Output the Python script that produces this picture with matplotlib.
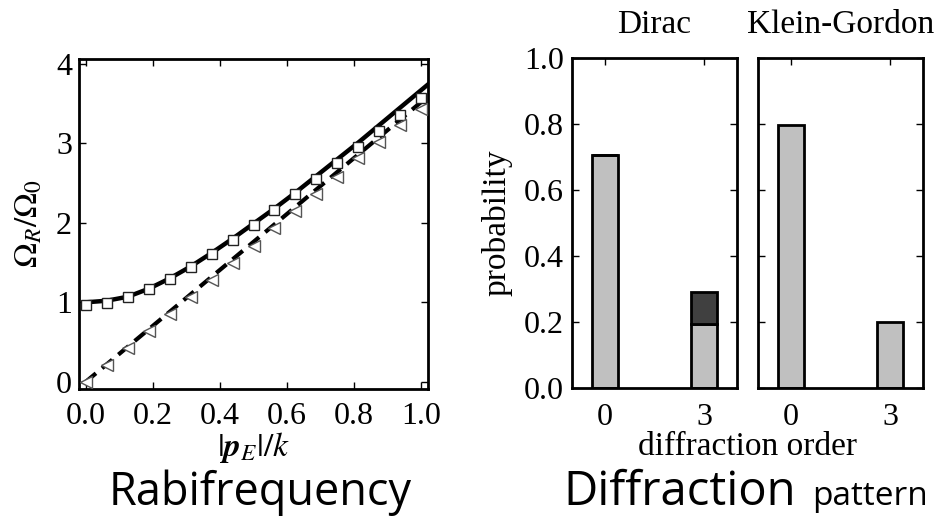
import matplotlib
matplotlib.use("Agg")
import matplotlib.pyplot as plt

plt.rcParams['font.family'] = ['Liberation Serif', 'DejaVu Serif']
plt.rcParams['mathtext.fontset'] = 'stix'

# ---- Left panel data (Rabi frequency) ----
x_pts = [0.0, 0.0625, 0.125, 0.1875, 0.25, 0.3125, 0.375, 0.4375, 0.5,
         0.5625, 0.625, 0.6875, 0.75, 0.8125, 0.875, 0.9375, 1.0]
squares = [0.97, 0.99, 1.065, 1.17, 1.29, 1.44, 1.61, 1.79, 1.97,
           2.16, 2.36, 2.55, 2.75, 2.95, 3.16, 3.36, 3.57]
triangles = [0.0, 0.21, 0.42, 0.64, 0.855, 1.065, 1.28, 1.49, 1.71,
             1.94, 2.15, 2.36, 2.58, 2.81, 3.02, 3.23, 3.43]
solid_x = [0.0, 0.0625, 0.125, 0.1875, 0.25, 0.3125, 0.375, 0.4375, 0.5,
           0.5625, 0.625, 0.6875, 0.75, 0.8125, 0.875, 0.9375, 1.0, 1.02]
solid_y = [1.00, 1.02, 1.07, 1.17, 1.30, 1.45, 1.62, 1.80, 1.99,
           2.18, 2.38, 2.59, 2.80, 3.01, 3.23, 3.45, 3.67, 3.74]
dash_x = [0.0, 0.25, 0.5, 0.75, 1.0, 1.02]
dash_y = [0.0, 0.88, 1.76, 2.64, 3.52, 3.59]
left_xticks = [0.0, 0.2, 0.4, 0.6, 0.8, 1.0]
left_yticks = [0, 1, 2, 3, 4]

# ---- Right panels data (diffraction pattern) ----
orders = [0, 3]
order_labels = ['0', '3']
dirac_light = [0.707, 0.195]
dirac_dark = [0.0, 0.095]
kg_light = [0.797, 0.2]
prob_ticks = [0.0, 0.2, 0.4, 0.6, 0.8, 1.0]

W, H = 939, 519
fig = plt.figure(figsize=(W / 100, H / 100), dpi=100)

def px_axes(l, r, t, b):
    return fig.add_axes([l / W, 1 - b / H, (r - l) / W, (b - t) / H])

TFS = 23   # tick labels
LFS = 24   # axis labels and titles
light = '#c0c0c0'
dark = '#404040'

def style(ax):
    for s in ax.spines.values():
        s.set_linewidth(2.0)
    ax.tick_params(direction='in', top=True, right=True, length=5, width=1,
                   labelsize=TFS)

# Left panel
ax = px_axes(79, 428, 59, 389)
style(ax)
ax.plot(solid_x, solid_y, '-', color='black', lw=3.2, zorder=2)
ax.plot(dash_x, dash_y, '--', color='black', lw=3.0, dashes=(3.2, 1.9), zorder=2)
ax.plot(x_pts, squares, 's', ms=7.4, mfc='white', mec='#222222', mew=1.0, zorder=3)
ax.plot(x_pts, triangles, '<', ms=8.5, mfc='white', mec='#555555', mew=1.0, zorder=3)
ax.set_xlim(-0.02, 1.02)
ax.set_ylim(-0.09, 4.06)
ax.set_xticks(left_xticks)
ax.set_xticklabels(['%.1f' % v for v in left_xticks])
ax.set_yticks(left_yticks)
ax.tick_params(axis='x', pad=9)
ax.tick_params(axis='y', pad=5)
ax.set_ylabel(r'$\Omega_R/\Omega_0$', fontsize=LFS)
ax.yaxis.set_label_coords(-0.10, 0.5)
ax.set_xlabel(r'$|\mathbfit{p}_E|/k$', fontsize=LFS)
ax.xaxis.set_label_coords(0.5, -0.125)

# Dirac panel
ax1 = px_axes(572, 737, 58, 388)
style(ax1)
ax1.bar(orders, dirac_light, width=0.8, color=light, edgecolor='black', lw=2, zorder=2)
ax1.bar(orders, dirac_dark, width=0.8, bottom=dirac_light, color=dark,
        edgecolor='black', lw=2, zorder=2)
ax1.set_xlim(-1, 4)
ax1.set_ylim(0, 1)
ax1.set_xticks(orders)
ax1.set_xticklabels(order_labels)
ax1.set_yticks(prob_ticks)
ax1.set_yticklabels(['%.1f' % v for v in prob_ticks])
ax1.tick_params(axis='x', pad=11)
ax1.tick_params(axis='y', pad=6)
ax1.set_ylabel('probability', fontsize=LFS)
ax1.yaxis.set_label_coords(-0.36, 0.5)
ax1.set_title('Dirac', fontsize=LFS, pad=18)

# Klein-Gordon panel
ax2 = px_axes(758, 923, 58, 388)
style(ax2)
ax2.bar(orders, kg_light, width=0.8, color=light, edgecolor='black', lw=2, zorder=2)
ax2.set_xlim(-1, 4)
ax2.set_ylim(0, 1)
ax2.set_xticks(orders)
ax2.set_xticklabels(order_labels)
ax2.set_yticks(prob_ticks)
ax2.set_yticklabels([])
ax2.tick_params(axis='x', pad=11)
ax2.set_title('Klein-Gordon', fontsize=LFS, pad=18)

fig.text(747.5 / W, 1 - 455 / H, 'diffraction order', fontsize=LFS,
         ha='center', va='baseline')

# Captions
fig.text(260 / W, 1 - 505 / H, 'Rabifrequency', fontsize=32.5,
         family='Open Sans', ha='center', va='baseline')
fig.text(563 / W, 1 - 505 / H, 'Diffraction', fontsize=34,
         family='Open Sans', ha='left', va='baseline')
fig.text(812 / W, 1 - 505 / H, 'pattern', fontsize=24,
         family='Open Sans', ha='left', va='baseline')

fig.savefig('out.png', dpi=100)
